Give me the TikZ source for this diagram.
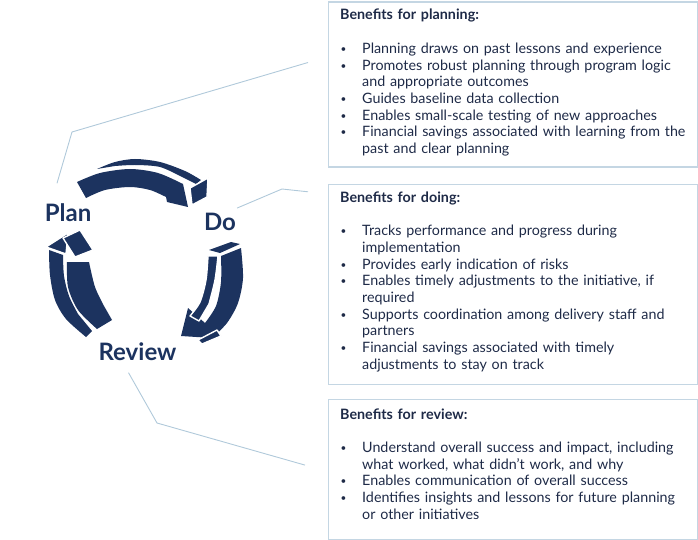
\documentclass[tikz,border=0pt]{standalone}
\usepackage{fontspec}
\setmainfont{Lato}
\usepackage{tikz}
\usetikzlibrary{positioning,calc}
\definecolor{cmarino}{HTML}{1C335F}
\definecolor{ctexto}{HTML}{1E2A47}
\definecolor{cborde}{HTML}{C4D6E3}
\definecolor{clinea}{HTML}{B0C9DA}
\newcommand{\punto}[1]{\par\hangindent=22pt\hangafter=1\noindent\makebox[22pt][l]{\hspace{0.5pt}\raisebox{1pt}{\scalebox{0.7}{\textbullet}}}#1\par}
\tikzset{
  caja/.style={rectangle, draw=cborde, line width=1.3pt, minimum width=369pt, inner sep=0pt},
  texto/.style={anchor=base west, inner sep=0pt, text width=352pt, align=left,
    text=ctexto, font=\fontsize{14.3}{16.7}\selectfont},
  etq/.style={font=\fontsize{24}{24}\selectfont\bfseries, text=cmarino, inner sep=0pt},
  conector/.style={draw=clinea, line width=0.9pt},
  cara/.style={fill=cmarino},
  bloque/.style={fill=cmarino, draw=white, line width=1.4pt, line join=round},
}

\begin{document}
\begin{tikzpicture}[x=1pt, y=-1pt, node distance=16pt]
  \useasboundingbox (0,0) rectangle (698,540);
  % cajas de beneficios
  \node[caja, minimum height=165pt, anchor=north west] (caja1) at (328,1.5) {};
  \node[caja, minimum height=200pt, below=16pt of caja1] (caja2) {};
  \node[caja, minimum height=140pt, below=14pt of caja2] (caja3) {};
  \node[texto] (t1) at ([xshift=12pt,yshift=-18.5pt]caja1.north west) {\textbf{Benefits for planning:}\par\vspace{16.7pt}
    \punto{Planning draws on past lessons and experience}
    \punto{Promotes robust planning through program logic\newline and appropriate outcomes}
    \punto{Guides baseline data collection}
    \punto{Enables small-scale testing of new approaches}
    \punto{Financial savings associated with learning from the\newline past and clear planning}};
  \node[texto] (t2) at ([xshift=12pt,yshift=-18.5pt]caja2.north west) {\textbf{Benefits for doing:}\par\vspace{16.7pt}
    \punto{Tracks performance and progress during\newline implementation}
    \punto{Provides early indication of risks}
    \punto{Enables timely adjustments to the initiative, if\newline required}
    \punto{Supports coordination among delivery staff and\newline partners}
    \punto{Financial savings associated with timely\newline adjustments to stay on track}};
  \node[texto] (t3) at ([xshift=12pt,yshift=-20pt]caja3.north west) {\textbf{Benefits for review:}\par\vspace{16.7pt}
    \punto{Understand overall success and impact, including\newline what worked, what didn’t work, and why}
    \punto{Enables communication of overall success}
    \punto{Identifies insights and lessons for future planning\newline or other initiatives}};
  % etiquetas del ciclo
  \node[etq] (plan) at (68,212.5) {Plan};
  \node[etq] (do) at (220,222) {Do};
  \node[etq] (review) at (137.5,351.5) {Review};
  % flecha plan -> do
  \fill[cara] plot[smooth] coordinates {(77,182) (100,173) (130,169) (158,173) (183,184)}
    -- (188,207) -- (167,202) -- plot[smooth] coordinates {(166,197) (150,190) (130,187) (105,190) (86,198)} -- cycle;
  \fill[cara] plot[smooth] coordinates {(97,169) (115,162) (135,159) (160,162) (185,171) (201,180)}
    -- (196,184) -- plot[smooth] coordinates {(182,177) (160,167) (135,165) (115,166)} -- cycle;
  \filldraw[bloque] (190,188) -- (208,178) -- (207,197) -- (192,205) -- cycle;
  % flecha do -> review
  \fill[cara] (209,250) -- (231,242) -- (240,244) -- (220,253) -- cycle;
  \fill[cara] plot[smooth] coordinates {(221,256) (221,282) (216,306) (205,323)}
    -- (188,308) -- (181,336) -- plot[smooth] coordinates {(212,338) (227,323) (238,303) (243,278) (241,248)} -- cycle;
  \filldraw[bloque] plot[smooth] coordinates {(208,256) (206,280) (200,302) (190,316)}
    -- (199,321) -- plot[smooth] coordinates {(209,304) (215,280) (218,256)} -- cycle;
  \filldraw[bloque] (198,340) -- (217,330) -- (221,336) -- (202,344) -- cycle;
  % flecha review -> plan
  \fill[cara] plot[smooth] coordinates {(49,250) (50,275) (55,300) (66,319) (86,337)}
    -- (92,331) -- plot[smooth] coordinates {(78,314) (69,296) (64,276) (63,255)} -- cycle;
  \fill[cara] plot[smooth] coordinates {(67,262) (68,287) (78,310) (97,329)}
    -- (112,320) -- plot[smooth] coordinates {(104,306) (95,287) (89,262)} -- cycle;
  \filldraw[bloque] (46,247) -- (68,233) -- (66,254) -- cycle;
  \filldraw[bloque] (63,238) -- (80,230) -- (93,250) -- (75,257) -- cycle;
  % conectores
  \coordinate (c1a) at ([xshift=-11pt,yshift=20pt]plan.north);
  \coordinate (c1b) at (72,132);
  \coordinate (c1c) at ([xshift=-20pt,yshift=-61pt]caja1.north west);
  \coordinate (c2a) at ([xshift=1pt,yshift=5pt]do.north east);
  \coordinate (c2b) at (282,189);
  \coordinate (c2c) at ([xshift=-20pt,yshift=-8pt]caja2.north west);
  \coordinate (c3a) at ([xshift=-9pt,yshift=-12pt]review.south);
  \coordinate (c3b) at (157,423);
  \coordinate (c3c) at ([xshift=-23pt,yshift=-66pt]caja3.north west);
  \draw[conector] (c1a) -- (c1b) -- (c1c);
  \draw[conector] (c2a) -- (c2b) -- (c2c);
  \draw[conector] (c3a) -- (c3b) -- (c3c);
\end{tikzpicture}
\end{document}
